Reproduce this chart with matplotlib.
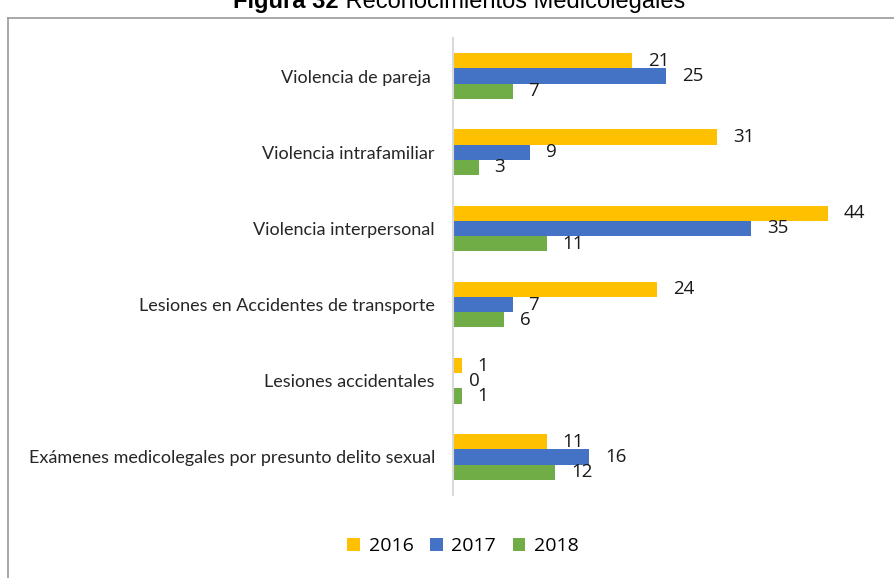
import matplotlib
matplotlib.use("Agg")
import matplotlib.pyplot as plt
import numpy as np
from matplotlib.lines import Line2D
from matplotlib.patches import Patch

categories = [
    "Violencia de pareja ",
    "Violencia intrafamiliar",
    "Violencia interpersonal",
    "Lesiones en Accidentes de transporte",
    "Lesiones accidentales",
    "Exámenes medicolegales por presunto delito sexual",
]
years = ["2016", "2017", "2018"]
v2016 = [21, 31, 44, 24, 1, 11]
v2017 = [25, 9, 35, 7, 0, 16]
v2018 = [7, 3, 11, 6, 1, 12]
colors = ["#FFC000", "#4472C4", "#70AD47"]

fig = plt.figure(figsize=(8.94, 5.78), dpi=100)
ax = fig.add_axes([453 / 894, 1 - 495 / 578, (879 - 453) / 894, (495 - 38) / 578])

y = np.arange(len(categories))
bh = 0.2
series = [v2016, v2017, v2018]
for i, (vals, col) in enumerate(zip(series, colors)):
    pos = y + (i - 1) * bh
    ax.barh(pos, vals, height=bh, color=col, edgecolor="none", label=years[i])
    for p, v in zip(pos, vals):
        ax.annotate(str(v), (v, p), xytext=(11.5, 0), textcoords="offset points",
                    ha="left", va="center", fontsize=13.5, family="Open Sans",
                    color="#1a1a1a")

ax.set_xlim(0, 50)
ax.set_ylim(len(categories) - 0.5, -0.5)
ax.set_yticks(y)
ax.set_yticklabels(categories, family="Lato", fontsize=13, color="#262626")
ax.tick_params(axis="y", length=0, pad=13)
ax.set_xticks([])
for s in ["top", "right", "bottom"]:
    ax.spines[s].set_visible(False)
ax.spines["left"].set_color("#d9d9d9")
ax.spines["left"].set_linewidth(1.5)

handles = [Patch(facecolor=c, edgecolor="none") for c in colors]
leg = fig.legend(handles, years, loc="center", bbox_to_anchor=(463 / 894, 1 - 546 / 578),
                 ncol=3, frameon=False, handlelength=0.65, handleheight=0.65,
                 handletextpad=0.45, columnspacing=0.85,
                 prop={"family": "Open Sans", "size": 14})

# Outer frame of the chart
fig.add_artist(Line2D([8 / 894, 8 / 894], [0, 1 - 18 / 578], transform=fig.transFigure,
                      color="#9a9a9a", lw=1.2))
fig.add_artist(Line2D([8 / 894, 1], [1 - 18 / 578, 1 - 18 / 578], transform=fig.transFigure,
                      color="#9a9a9a", lw=1.2))

# Caption above the frame
t1 = fig.text(0, 0, "Figura 32", family="Liberation Sans", weight="bold", fontsize=17)
fig.canvas.draw()
r = fig.canvas.get_renderer()
w1 = t1.get_window_extent(r).width
t2 = fig.text(0, 0, " Reconocimientos Medicolegales", family="Liberation Sans", fontsize=17)
w2 = t2.get_window_extent(r).width
x0 = 459 - (w1 + w2) / 2
yb = 1 - 8 / 578
t1.set_position((x0 / 894, yb))
t1.set_va("baseline")
t2.set_position(((x0 + w1) / 894, yb))
t2.set_va("baseline")

fig.savefig("out.png", dpi=100)
